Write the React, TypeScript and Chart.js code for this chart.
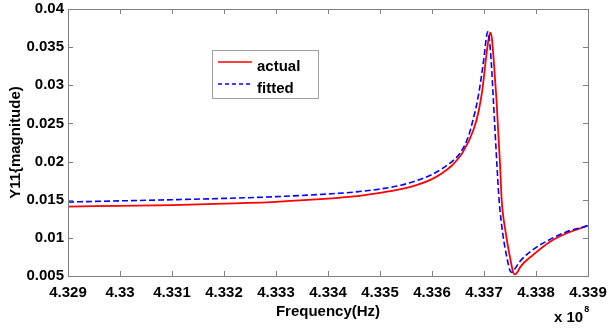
import React, { useEffect, useRef } from 'react';
import { Chart, registerables } from 'chart.js';

Chart.register(...registerables);

// Frequency values in units of 1e8 Hz (axis shows "x 10^8")
const actualFreq = [
  4.3290, 4.3300, 4.3310, 4.3320, 4.3330, 4.3340, 4.3345, 4.3350, 4.3354, 4.3357,
  4.3360, 4.3362, 4.3364, 4.3366, 4.3368, 4.3369, 4.33697, 4.33705, 4.33709, 4.33712,
  4.33715, 4.33719, 4.33724, 4.33731, 4.33734, 4.33742, 4.33751, 4.33756, 4.33760, 4.33765,
  4.33770, 4.33795, 4.33827, 4.33859, 4.3390,
];
const actualMag = [
  0.0141, 0.0142, 0.0143, 0.01448, 0.01473, 0.01513, 0.01543, 0.0159, 0.01638, 0.0169,
  0.0177, 0.0185, 0.0196, 0.0213, 0.0242, 0.0267, 0.0295, 0.0342, 0.0361, 0.0369,
  0.0362, 0.0330, 0.0281, 0.0194, 0.0150, 0.0106, 0.0071, 0.0055, 0.0052, 0.0056,
  0.0062, 0.0078, 0.0095, 0.0106, 0.0116,
];
const fittedFreq = [
  4.3290, 4.3300, 4.3310, 4.3320, 4.3330, 4.3340, 4.3345, 4.3350, 4.3354, 4.3357,
  4.3360, 4.3362, 4.3364, 4.33654, 4.3367, 4.33679, 4.33686, 4.33692, 4.33701, 4.33704,
  4.33707, 4.33710, 4.33714, 4.33718, 4.33725, 4.33729, 4.33736, 4.33745, 4.33750, 4.33753,
  4.33758, 4.33769, 4.33795, 4.33827, 4.33859, 4.3390,
];
const fittedMag = [
  0.0147, 0.01485, 0.0150, 0.01517, 0.0154, 0.01575, 0.0160, 0.0164, 0.0169, 0.0175,
  0.0183, 0.0191, 0.0201, 0.0211, 0.0233, 0.0255, 0.0275, 0.0298, 0.0342, 0.0360,
  0.0370, 0.0362, 0.0330, 0.0281, 0.0194, 0.0150, 0.0106, 0.0071, 0.0057, 0.0055,
  0.0058, 0.0069, 0.0085, 0.0098, 0.0108, 0.0116,
];

const xMin = 4.329;
const xMax = 4.339;
const xStep = 0.001;
const yMin = 0.005;
const yMax = 0.04;
const yStep = 0.005;

const seriesLabels = ['actual', 'fitted'];
const xTitle = 'Frequency(Hz)';
const yTitle = 'Y11{magnitude)';
const exponentText = 'x 10';
const exponentPower = '8';

const FONT = "'Liberation Sans', Arial, Helvetica, sans-serif";
const AXIS_COLOR = '#7f7f7f';
const RED = '#ff0000';
const BLUE = '#0000ff';

const fmt = (v: number) => String(Number(Number(v).toFixed(4)));

const decorPlugin = {
  id: 'decor',
  afterDraw(chart: any) {
    const { ctx, chartArea } = chart;
    const { left, right, top, bottom } = chartArea;
    const xs = chart.scales.x;
    const ys = chart.scales.y;
    ctx.save();
    // box
    ctx.strokeStyle = AXIS_COLOR;
    ctx.lineWidth = 1;
    ctx.strokeRect(Math.round(left) + 0.5, Math.round(top) + 0.5, Math.round(right - left), Math.round(bottom - top));
    // inward ticks
    const tl = 5;
    ctx.beginPath();
    xs.ticks.forEach((t: any) => {
      const px = Math.round(xs.getPixelForValue(t.value)) + 0.5;
      ctx.moveTo(px, bottom);
      ctx.lineTo(px, bottom - tl);
      ctx.moveTo(px, top);
      ctx.lineTo(px, top + tl);
    });
    ys.ticks.forEach((t: any) => {
      const py = Math.round(ys.getPixelForValue(t.value)) + 0.5;
      ctx.moveTo(left, py);
      ctx.lineTo(left + tl, py);
      ctx.moveTo(right, py);
      ctx.lineTo(right - tl, py);
    });
    ctx.stroke();

    // exponent label
    ctx.fillStyle = '#000';
    ctx.font = `bold 15px ${FONT}`;
    ctx.textBaseline = 'middle';
    ctx.textAlign = 'left';
    ctx.fillText(exponentText, 554, 318);
    const w = ctx.measureText(exponentText).width;
    ctx.font = `bold 9px ${FONT}`;
    ctx.fillText(exponentPower, 554 + w + 1, 310);

    // legend
    const lx = 212, ly = 50, lw = 106, lh = 48;
    ctx.fillStyle = '#ffffff';
    ctx.fillRect(lx, ly, lw, lh);
    ctx.strokeStyle = '#a0a0a0';
    ctx.strokeRect(lx + 0.5, ly + 0.5, lw, lh);
    const rows = [
      { label: seriesLabels[0], color: RED, dash: [] as number[], y: 62 },
      { label: seriesLabels[1], color: BLUE, dash: [4, 3], y: 84 },
    ];
    rows.forEach((r) => {
      ctx.strokeStyle = r.color;
      ctx.lineWidth = 1.5;
      ctx.setLineDash(r.dash);
      ctx.beginPath();
      ctx.moveTo(218, r.y);
      ctx.lineTo(252, r.y);
      ctx.stroke();
      ctx.setLineDash([]);
      ctx.fillStyle = '#000';
      ctx.font = `bold 15px ${FONT}`;
      ctx.textBaseline = 'alphabetic';
      ctx.fillText(r.label, 257, r.y + 8.5);
    });
    ctx.restore();
  },
};

export default function App() {
  const ref = useRef<HTMLCanvasElement | null>(null);
  useEffect(() => {
    if (!ref.current) return;
    Chart.defaults.font.family = FONT;
    const chart = new Chart(ref.current, {
      type: 'line',
      data: {
        datasets: [
          {
            label: seriesLabels[0],
            data: actualFreq.map((f, i) => ({ x: f, y: actualMag[i] })),
            borderColor: RED,
            borderWidth: 1.8,
            pointRadius: 0,
            cubicInterpolationMode: 'monotone',
            fill: false,
            order: 1,
          },
          {
            label: seriesLabels[1],
            data: fittedFreq.map((f, i) => ({ x: f, y: fittedMag[i] })),
            borderColor: BLUE,
            borderWidth: 1.6,
            borderDash: [6, 3],
            pointRadius: 0,
            cubicInterpolationMode: 'monotone',
            fill: false,
            order: 0,
          },
        ],
      },
      options: {
        responsive: false,
        animation: false,
        events: [],
        layout: { padding: { left: 0, right: 20, top: 9, bottom: 0 } },
        plugins: { legend: { display: false }, tooltip: { enabled: false } },
        scales: {
          x: {
            type: 'linear',
            min: xMin,
            max: xMax,
            grid: { display: false, drawTicks: false },
            border: { display: false },
            ticks: {
              stepSize: xStep,
              color: '#000',
              padding: 8,
              maxRotation: 0,
              autoSkip: false,
              font: { size: 15, weight: 'bold', family: FONT },
              callback: (v: any) => fmt(v),
            },
            title: {
              display: true,
              text: xTitle,
              color: '#000',
              font: { size: 15, weight: 'bold', family: FONT },
              padding: { top: 0, bottom: 8 },
            },
            afterFit: (s: any) => {
              s.height = 53;
              s.paddingLeft = 0;
              s.paddingRight = 0;
            },
          },
          y: {
            type: 'linear',
            min: yMin,
            max: yMax,
            grid: { display: false, drawTicks: false },
            border: { display: false },
            ticks: {
              stepSize: yStep,
              color: '#000',
              padding: 4,
              autoSkip: false,
              font: { size: 15, weight: 'bold', family: FONT },
              callback: (v: any) => fmt(v),
            },
            title: {
              display: true,
              text: yTitle,
              color: '#000',
              font: { size: 15, weight: 'bold', family: FONT },
              padding: { top: 7, bottom: 0 },
            },
            afterFit: (s: any) => {
              s.width = 68;
              s.paddingTop = 0;
              s.paddingBottom = 0;
            },
          },
        },
      },
      plugins: [decorPlugin],
    } as any);
    return () => chart.destroy();
  }, []);
  return (
    <div style={{ position: 'absolute', left: 0, top: 0, width: 608, height: 329, background: '#fff' }}>
      <canvas ref={ref} width={608} height={329} style={{ display: 'block' }} />
    </div>
  );
}
